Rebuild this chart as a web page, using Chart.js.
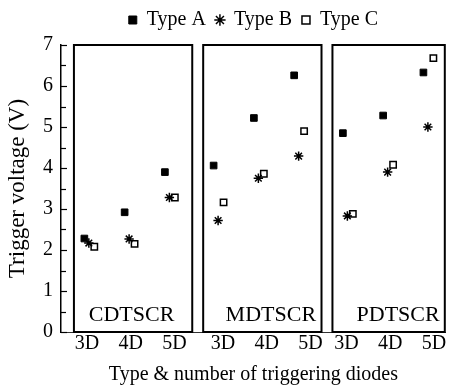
<!DOCTYPE html>
<html><head><meta charset="utf-8">
<script src="https://cdn.jsdelivr.net/npm/chart.js@4/dist/chart.umd.min.js"></script>
<style>html,body{margin:0;padding:0;background:#fff}#wrap{position:relative;width:452px;height:389px}</style>
</head><body><div id="wrap"><canvas id="c" width="452" height="389"></canvas></div>
<script>
// ---- data ----
const panels = ['CDTSCR', 'MDTSCR', 'PDTSCR'];
const diodes = ['3D', '4D', '5D'];
const seriesNames = ['Type A', 'Type B', 'Type C'];
const typeA = [2.28, 2.92, 3.90, 4.06, 5.22, 6.26, 4.85, 5.28, 6.33];
const typeB = [2.17, 2.27, 3.28, 2.72, 3.75, 4.29, 2.83, 3.90, 5.00];
const typeC = [2.08, 2.15, 3.28, 3.16, 3.86, 4.90, 2.88, 4.08, 6.68];
const yTicks = [0, 1, 2, 3, 4, 5, 6, 7];

// ---- layout (x scale units = px from chart-area left) ----
const X_MAX = 387;
const PANEL_LEFT = [13, 143, 273];
const PANEL_RIGHT = [133, 263, 387];
const FIRST = 15, STEP = 40.5;
const SERIES_OFF = [-4.5, 0, 5.5];
const LABEL_OFF = [13, 20, 14], LABEL_STEP = 44;
const PANEL_TEXT_DX = [-2, 8, 9];
const FONT = '"Liberation Serif", "Times New Roman", serif';

function xPos(i, s) { const p = Math.floor(i / 3), d = i % 3; return PANEL_LEFT[p] + FIRST + d * STEP + SERIES_OFF[s]; }
function pts(vals, s) { return vals.map((v, i) => ({x: xPos(i, s), y: v})); }
const tickPos = [], tickLab = [];
panels.forEach((p, pi) => diodes.forEach((d, di) => {
  tickPos.push(PANEL_LEFT[pi] + LABEL_OFF[pi] + di * LABEL_STEP); tickLab.push(d);
}));

Chart.defaults.color = '#000';
Chart.defaults.font.family = FONT;

const panelPlugin = {
  id: 'panels',
  afterInit(chart) {
    const lg = chart.legend;
    const f = lg.fit.bind(lg);
    lg.fit = function () { f(); this.height = 45; };
  },
  afterLayout(chart) {
    const lg = chart.legend, ca = chart.chartArea;
    lg.left = ca.left; lg.right = ca.right;
  },
  beforeDatasetsDraw(chart) {
    const {ctx} = chart, x = chart.scales.x, y = chart.scales.y;
    ctx.save();
    ctx.strokeStyle = '#000'; ctx.lineWidth = 2;
    const top = y.getPixelForValue(7), bot = y.getPixelForValue(0);
    panels.forEach((name, p) => {
      const l = x.getPixelForValue(PANEL_LEFT[p]), r = x.getPixelForValue(PANEL_RIGHT[p]);
      ctx.strokeRect(l, top, r - l - 1, bot - top);
      ctx.fillStyle = '#000';
      ctx.font = '22px ' + FONT;
      ctx.textAlign = 'center'; ctx.textBaseline = 'alphabetic';
      ctx.fillText(name, (l + r) / 2 + PANEL_TEXT_DX[p], bot - 11);
    });
    // inward y ticks
    ctx.lineWidth = 1.2;
    const ax = chart.chartArea.left;
    for (let v = 0; v <= 7; v += 0.5) {
      const py = Math.round(y.getPixelForValue(v)) + 0.5;
      const len = (v % 1 === 0) ? 6 : 5;
      ctx.beginPath(); ctx.moveTo(ax, py); ctx.lineTo(ax + len, py); ctx.stroke();
    }
    ctx.restore();
  }
};

new Chart(document.getElementById('c'), {
  type: 'scatter',
  data: {
    datasets: [
      {label: seriesNames[0], data: pts(typeA, 0), pointStyle: 'rect', radius: 4.7, backgroundColor: '#000', borderColor: '#000', borderWidth: 1},
      {label: seriesNames[1], data: pts(typeB, 1), pointStyle: 'star', radius: 4.7, backgroundColor: '#000', borderColor: '#000', borderWidth: 1.5},
      {label: seriesNames[2], data: pts(typeC, 2), pointStyle: 'rect', radius: 4.5, backgroundColor: '#fff', borderColor: '#000', borderWidth: 1.5}
    ]
  },
  options: {
    responsive: false,
    animation: false,
    devicePixelRatio: 1,
    layout: {padding: {left: 0, right: 4, top: 0, bottom: 0}},
    plugins: {
      tooltip: {enabled: false},
      legend: {
        display: true, position: 'top',
        labels: {usePointStyle: true, boxHeight: 8, boxWidth: 8, padding: 10, color: '#000', font: {size: 20, family: FONT}}
      }
    },
    scales: {
      x: {
        type: 'linear', min: 0, max: X_MAX,
        afterBuildTicks: s => { s.ticks = tickPos.map(v => ({value: v})); },
        afterFit: s => { s.height = 57; s.paddingLeft = 0; s.paddingRight = 0; },
        ticks: {autoSkip: false, maxRotation: 0, padding: 0, color: '#000', font: {size: 20, family: FONT},
          callback: (v, i) => tickLab[i]},
        grid: {display: false, drawTicks: false},
        border: {display: true, color: '#333', width: 1},
        title: {display: true, text: 'Type & number of triggering diodes', color: '#000', font: {size: 20, family: FONT}, padding: {top: 0, bottom: 2}}
      },
      y: {
        type: 'linear', min: 0, max: 7,
        afterBuildTicks: s => { s.ticks = yTicks.map(v => ({value: v})); },
        afterFit: s => { s.width = 61; s.paddingTop = 0; s.paddingBottom = 0; },
        ticks: {padding: 8, color: '#000', font: {size: 20, family: FONT}},
        grid: {display: false, drawTicks: false},
        border: {display: true, color: '#000', width: 1.5},
        title: {display: true, text: 'Trigger voltage (V)', color: '#000', font: {size: 23, family: FONT}, padding: {top: 4, bottom: 0}}
      }
    }
  },
  plugins: [panelPlugin]
});
</script>
</body></html>
